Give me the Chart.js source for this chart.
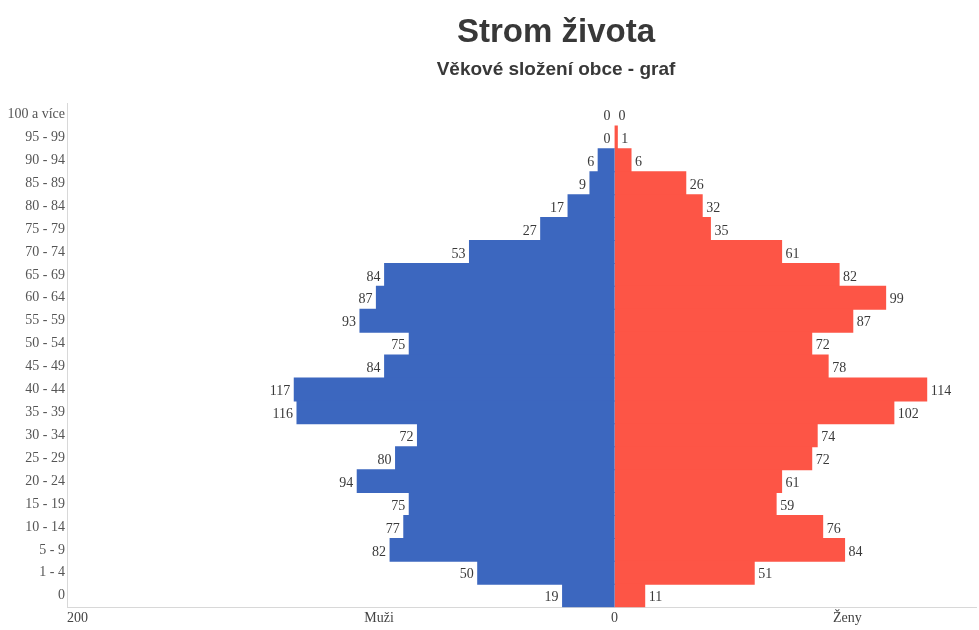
<!DOCTYPE html>
<html>
<head>
<meta charset="utf-8">
<script src="https://cdn.jsdelivr.net/npm/chart.js@4/dist/chart.umd.min.js"></script>
<style>
  html, body { margin: 0; padding: 0; background: #fff; }
  #wrap { width: 979px; height: 630px; position: relative; }
</style>
</head>
<body>
<div id="wrap"><canvas id="c"></canvas></div>
<script>
const titleText = "Strom života";
const subtitleText = "Věkové složení obce - graf";
const ageGroups = ["100 a více","95 - 99","90 - 94","85 - 89","80 - 84","75 - 79","70 - 74","65 - 69","60 - 64","55 - 59","50 - 54","45 - 49","40 - 44","35 - 39","30 - 34","25 - 29","20 - 24","15 - 19","10 - 14","5 - 9","1 - 4","0"];
const men   = [0,0,6,9,17,27,53,84,87,93,75,84,117,116,72,80,94,75,77,82,50,19];
const women = [0,1,6,26,32,35,61,82,99,87,72,78,114,102,74,72,61,59,76,84,51,11];
const xTickValues = [-200, -86, 0, 85, 132];
const xTickLabels = ["200", "Muži", "0", "Ženy", ""];

const serif = "'Liberation Serif', 'Times New Roman', serif";

const valueLabels = {
  id: 'valueLabels',
  afterDatasetsDraw(chart) {
    const ctx = chart.ctx;
    ctx.save();
    ctx.font = "14px " + serif;
    ctx.fillStyle = "#3a3a3a";
    ctx.textBaseline = "middle";
    chart.data.datasets.forEach((ds, di) => {
      const meta = chart.getDatasetMeta(di);
      meta.data.forEach((bar, i) => {
        const v = Math.abs(ds.data[i]);
        if (di === 0) { ctx.textAlign = "right"; ctx.fillText(String(v), bar.x - 4, bar.y + 2); }
        else { ctx.textAlign = "left"; ctx.fillText(String(v), bar.x + 4, bar.y + 2); }
      });
    });
    ctx.restore();
  }
};

const headings = {
  id: 'headings',
  afterDraw(chart) {
    const ctx = chart.ctx;
    ctx.save();
    ctx.fillStyle = "#383838";
    ctx.textAlign = "center";
    ctx.textBaseline = "middle";
    ctx.font = "bold 33px 'Liberation Sans', Arial, sans-serif";
    ctx.fillText(titleText, 556, 33);
    ctx.font = "bold 19px 'Liberation Sans', Arial, sans-serif";
    ctx.fillText(subtitleText, 556, 70);
    ctx.restore();
  }
};

const inflate = (c) => (c.raw === 0 ? 0 : 0.5);

new Chart(document.getElementById('c'), {
  type: 'bar',
  data: {
    labels: ageGroups,
    datasets: [
      { label: 'Muži', data: men.map(v => -v), backgroundColor: '#3c67bf', barPercentage: 1, categoryPercentage: 1, borderWidth: 0, inflateAmount: inflate },
      { label: 'Ženy', data: women, backgroundColor: '#fd5546', barPercentage: 1, categoryPercentage: 1, borderWidth: 0, inflateAmount: inflate }
    ]
  },
  options: {
    indexAxis: 'y',
    responsive: true,
    maintainAspectRatio: false,
    animation: false,
    layout: { padding: { top: 103, right: 0, bottom: 0, left: 0 } },
    plugins: { legend: { display: false }, tooltip: { enabled: false }, title: { display: false } },
    scales: {
      x: {
        stacked: true,
        min: -200,
        max: 132,
        afterBuildTicks(scale) { scale.ticks = xTickValues.map(v => ({ value: v })); },
        ticks: {
          align: 'inner',
          autoSkip: false,
          maxRotation: 0,
          padding: 3,
          color: '#444',
          font: { family: serif, size: 14 },
          callback: (val, idx) => xTickLabels[idx]
        },
        grid: { drawOnChartArea: false, drawTicks: false },
        border: { display: true, color: '#d8d8d8', width: 1 }
      },
      y: {
        stacked: true,
        afterFit(scale) { scale.width = 67; },
        ticks: {
          padding: 2,
          color: '#555',
          font: { family: serif, size: 14 },
          autoSkip: false
        },
        grid: { drawOnChartArea: false, drawTicks: false },
        border: { display: true, color: '#d8d8d8', width: 1 }
      }
    }
  },
  plugins: [valueLabels, headings]
});
</script>
</body>
</html>
